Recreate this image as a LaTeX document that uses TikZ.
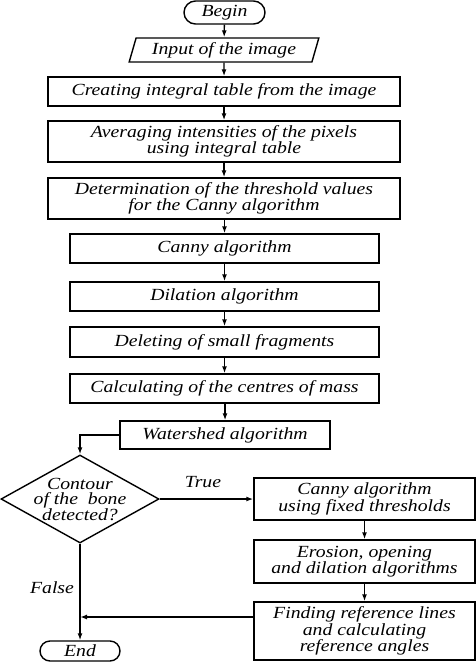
\documentclass[tikz,border=0pt]{standalone}
\usepackage{fontspec}
\setmainfont{Liberation Serif}[FakeStretch=1.16]
\usetikzlibrary{shapes.geometric,shapes.misc,arrows.meta}
\begin{document}
\begin{tikzpicture}[x=1pt, y=-1pt, line width=1.4pt,
    txt/.style={font=\fontsize{17}{14}\selectfont\itshape, align=center},
    proc/.style={draw, txt, rectangle, inner sep=0pt},
    term/.style={draw, txt, rounded rectangle, inner sep=0pt},
    io/.style={draw, txt, trapezium, trapezium left angle=70, trapezium right angle=110,
        trapezium stretches=true, inner sep=0pt},
    decision/.style={draw, txt, font=\fontsize{17}{15.5}\selectfont\itshape,
        diamond, shape aspect=1.8, inner sep=-5pt},
    flow/.style={-{Latex[length=7pt,width=5pt]}}]

    \useasboundingbox (0,0) rectangle (476,662);

    % Start and input
    \node[term, minimum width=81pt, minimum height=23pt] (begin) at (224.5,12.5) {Begin};
    \node[io, minimum width=190pt, minimum height=24pt] (input) at (224,50) {Input of the image};

    % Preprocessing steps (wide boxes)
    \node[proc, minimum width=352pt, minimum height=29pt] (integral) at (224,91.5) {Creating integral table from the image};
    \node[proc, minimum width=352pt, minimum height=41pt] (average) at (224,141.5) {Averaging intensities of the pixels\\using integral table};
    \node[proc, minimum width=352pt, minimum height=41pt] (threshold) at (224,198.5) {Determination of the threshold values\\for the Canny algorithm};

    % Edge detection steps
    \node[proc, minimum width=309pt, minimum height=29pt] (canny) at (224.5,248.5) {Canny algorithm};
    \node[proc, minimum width=309pt, minimum height=29pt] (dilation) at (224.5,296.5) {Dilation algorithm};
    \node[proc, minimum width=309pt, minimum height=30pt] (delete) at (224.5,342) {Deleting of small fragments};
    \node[proc, minimum width=309pt, minimum height=29pt] (centres) at (224.5,388.5) {Calculating of the centres of mass};
    \node[proc, minimum width=210pt, minimum height=28pt] (watershed) at (225,435) {Watershed algorithm};

    % Decision
    \node[decision, minimum width=158pt, minimum height=88pt] (contour) at (80,499) {Contour\\of the~ bone\\detected?};

    % True branch
    \node[proc, minimum width=221pt, minimum height=42pt] (cannyfix) at (364.5,499) {Canny algorithm\\using fixed thresholds};
    \node[proc, minimum width=221pt, minimum height=43pt] (erosion) at (364.5,561.5) {Erosion, opening\\and dilation algorithms};
    \node[proc, minimum width=221pt, minimum height=58pt] (angles) at (364.5,631) {Finding reference lines\\and calculating\\reference angles};

    % End
    \node[term, minimum width=80pt, minimum height=20pt] (end) at (80,651) {End};

    % Branch labels
    \node[txt] (truelbl) at (203,482) {True};
    \node[txt] (falselbl) at (52,588) {False};

    % Connections
    \draw[flow] (begin) -- (input);
    \draw[flow] (input) -- (integral);
    \draw[flow] (integral) -- (average);
    \draw[flow] (average) -- (threshold);
    \draw[flow] (threshold.south -| canny) -- (canny);
    \draw[flow] (canny) -- (dilation);
    \draw[flow] (dilation) -- (delete);
    \draw[flow] (delete) -- (centres);
    \draw[flow] (centres.south -| watershed) -- (watershed);
    \draw[flow] (watershed.west) -| (contour.north);
    \draw[flow] (contour.east) -- (contour.east -| cannyfix.west);
    \draw[flow] (cannyfix) -- (erosion);
    \draw[flow] (erosion) -- (angles);
    \draw[flow] (contour.south) -- (end.north);
    \draw[flow] (angles.west |- 0,617) -- (contour.south |- 0,617);

\end{tikzpicture}
\end{document}
